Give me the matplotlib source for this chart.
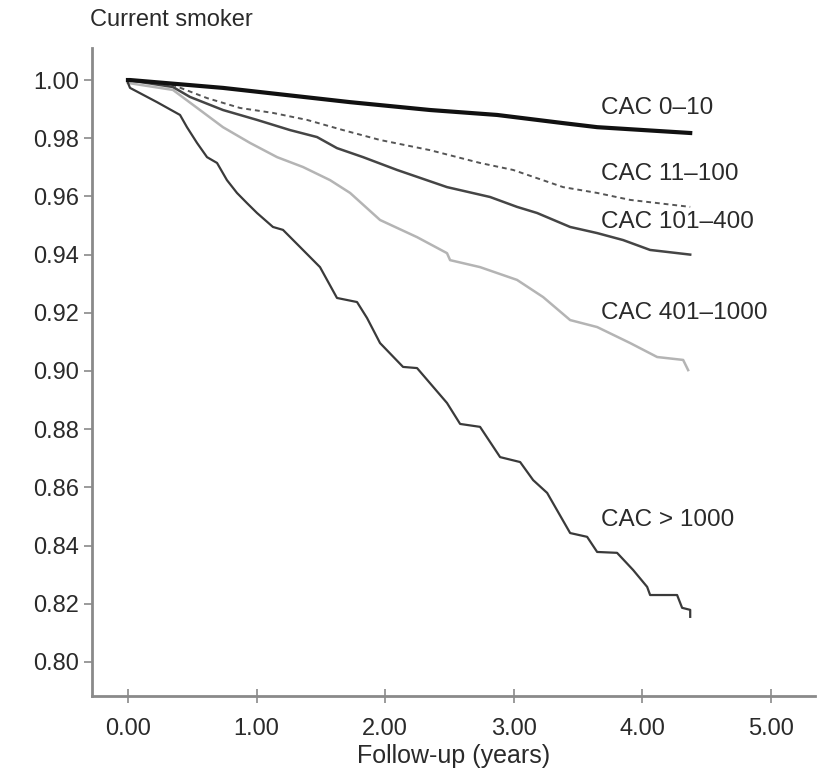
import numpy as np
import matplotlib.pyplot as plt

plt.rcParams['font.family'] = ['Liberation Sans', 'DejaVu Sans']

# --- DATA ---
x_0_10 = [0.0, 0.016, 0.739, 1.728, 2.350, 2.872, 3.385, 3.650, 4.374]
y_0_10 = [1.0, 1.0000, 0.9973, 0.9924, 0.9897, 0.9880, 0.9852, 0.9838, 0.9818]

x_11_100 = [0.0, 0.350, 0.615, 0.872, 1.128, 1.393, 1.673, 1.961, 2.350,
            2.739, 2.996, 3.385, 3.650, 3.907, 4.374]
y_11_100 = [1.0, 0.9983, 0.9938, 0.9904, 0.9887, 0.9863, 0.9828, 0.9794, 0.9759,
            0.9715, 0.9691, 0.9632, 0.9612, 0.9588, 0.9564]

x_101_400 = [0.0, 0.350, 0.482, 0.739, 1.004, 1.261, 1.471, 1.626, 1.829, 2.093,
             2.482, 2.817, 3.027, 3.183, 3.440, 3.650, 3.852, 4.062, 4.374]
y_101_400 = [1.0, 0.9976, 0.9942, 0.9897, 0.9863, 0.9828, 0.9804, 0.9766, 0.9735, 0.9691,
             0.9632, 0.9598, 0.9564, 0.9543, 0.9495, 0.9474, 0.9450, 0.9416, 0.9400]

x_401_1000 = [0.0, 0.350, 0.560, 0.739, 0.949, 1.160, 1.362, 1.572, 1.728, 1.961,
              2.249, 2.482, 2.506, 2.739, 3.027, 3.230, 3.440, 3.650, 3.907, 4.117,
              4.319, 4.358]
y_401_1000 = [0.999, 0.9966, 0.9897, 0.9838, 0.9784, 0.9735, 0.9701, 0.9656, 0.9612, 0.9519,
              0.9460, 0.9405, 0.9381, 0.9357, 0.9313, 0.9254, 0.9175, 0.9151, 0.9096, 0.9048,
              0.9038, 0.9003]

x_gt1000 = [0.0, 0.016, 0.226, 0.405, 0.459, 0.537, 0.615, 0.693, 0.770, 0.848,
            0.926, 1.004, 1.128, 1.206, 1.339, 1.494, 1.626, 1.782, 1.860, 1.961,
            2.140, 2.249, 2.482, 2.584, 2.739, 2.895, 3.051, 3.152, 3.261, 3.440,
            3.572, 3.650, 3.805, 3.930, 4.039, 4.062, 4.272, 4.311, 4.374, 4.374]
y_gt1000 = [0.999, 0.9973, 0.9924, 0.9880, 0.9838, 0.9784, 0.9735, 0.9715, 0.9656, 0.9612,
            0.9577, 0.9543, 0.9495, 0.9485, 0.9426, 0.9357, 0.9251, 0.9237, 0.9182, 0.9096,
            0.9014, 0.9010, 0.8890, 0.8818, 0.8808, 0.8704, 0.8687, 0.8625, 0.8581, 0.8443,
            0.8430, 0.8378, 0.8375, 0.8316, 0.8258, 0.8230, 0.8230, 0.8186, 0.8179, 0.8155]

labels = ["CAC 0\u201310", "CAC 11\u2013100", "CAC 101\u2013400", "CAC 401\u20131000", "CAC > 1000"]
label_y = [0.9904, 0.9677, 0.9512, 0.9200, 0.8488]

x_ticks = [0, 1, 2, 3, 4, 5]
y_ticks = [0.80, 0.82, 0.84, 0.86, 0.88, 0.90, 0.92, 0.94, 0.96, 0.98, 1.00]

# --- PLOT ---
fig = plt.figure(figsize=(8.19, 7.71), dpi=100)
ax = fig.add_axes([0.1123, 0.0973, 0.883, 0.8404])

ax.plot(x_401_1000, y_401_1000, color='#b4b4b4', lw=1.8)
ax.plot(x_gt1000, y_gt1000, color='#3a3a3a', lw=1.6)
ax.plot(x_101_400, y_101_400, color='#454545', lw=1.8)
ax.plot(x_11_100, y_11_100, color='#555555', lw=1.4, linestyle=(0, (2.5, 2)))
ax.plot(x_0_10, y_0_10, color='#111111', lw=3.0)

for lab, ly in zip(labels, label_y):
    ax.text(3.68, ly, lab, fontsize=17.5, color='#2a2a2a', va='center', ha='left')

ax.set_xlim(-0.28, 5.346)
ax.set_ylim(0.7883, 1.011)
ax.set_xticks(x_ticks)
ax.set_xticklabels([f"{v:.2f}" for v in x_ticks])
ax.set_yticks(y_ticks)
ax.set_yticklabels([f"{v:.2f}" for v in y_ticks])

for s in ['top', 'right']:
    ax.spines[s].set_visible(False)
for s in ['left', 'bottom']:
    ax.spines[s].set_color('#8a8a8a')
    ax.spines[s].set_linewidth(2.0)

ax.tick_params(axis='y', direction='out', length=6, width=1.2, color='#8a8a8a',
               labelsize=17, labelcolor='#2a2a2a', pad=3)
ax.tick_params(axis='x', direction='inout', length=10, width=1.2, color='#8a8a8a',
               labelsize=17, labelcolor='#2a2a2a', pad=11)

ax.set_xlabel("Follow-up (years)", fontsize=18, color='#2a2a2a', labelpad=3)
fig.text(0.11, 1 - 20 / 771, "Current smoker", fontsize=17, color='#2a2a2a',
         ha='left', va='center')

fig.savefig("out.png", dpi=100)
